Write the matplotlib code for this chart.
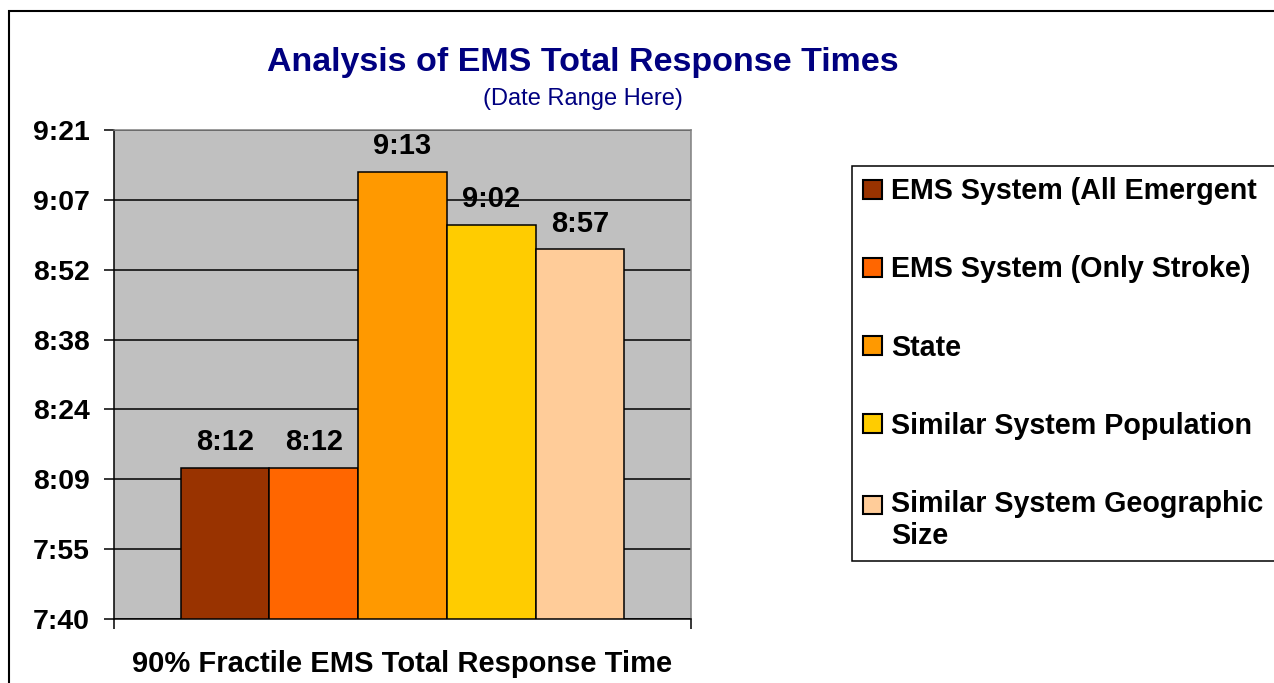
import matplotlib.pyplot as plt
import numpy as np
from matplotlib.patches import Rectangle

plt.rcParams['font.family'] = ['Liberation Sans', 'DejaVu Sans']

# data: 90% fractile total response time, in seconds (m:ss)
series = ['EMS System (All Emergent', 'EMS System (Only Stroke)', 'State',
          'Similar System Population', 'Similar System Geographic\nSize']
values = [492, 492, 553, 542, 537]          # 8:12, 8:12, 9:13, 9:02, 8:57
colors = ['#993300', '#FF6600', '#FF9900', '#FFCC00', '#FFCC99']
ytick_labels = ['7:40', '7:55', '8:09', '8:24', '8:38', '8:52', '9:07', '9:21']
# axis bounds as in the excel sheet (0.00533 .. 0.0065 days)
y_min, y_max = 460.8, 561.6


def mmss(s):
    return '%d:%02d' % (s // 60, s % 60)


W, H = 1274, 683
fig = plt.figure(figsize=(W / 100, H / 100), dpi=100)
ax = fig.add_axes([114 / W, (H - 619) / H, (691 - 114) / W, (619 - 130) / H])
ax.set_facecolor('#C0C0C0')

# excel-like grouping: gap width 150%
n = len(values)
bw = 1.0 / (n + 1.5)
xs = (np.arange(n) - (n - 1) / 2) * bw
bars = []
for x, v, c, lab in zip(xs, values, colors, series):
    b = ax.bar(x, v - y_min, bottom=y_min, width=bw, color=c,
               edgecolor='black', linewidth=1.1, label=lab, zorder=3)
    bars.append(b)
    ax.bar_label(b, labels=[mmss(v)], padding=8.5, fontsize=21,
                 fontweight='bold', zorder=4)

ax.set_xlim(-0.5, 0.5)
ax.set_ylim(y_min, y_max)
ax.set_yticks(np.linspace(y_min, y_max, len(ytick_labels)))
ax.set_yticklabels(ytick_labels, fontsize=20.4, fontweight='bold')
ax.set_xticks([-0.5, 0.5])
ax.set_xticklabels(['', ''])
ax.tick_params(axis='both', length=7.5, width=1.1, pad=10, color='black')
ax.yaxis.grid(True, color='black', linewidth=1.1, zorder=1)
ax.set_axisbelow(True)
for side in ['left', 'bottom']:
    ax.spines[side].set_color('black')
    ax.spines[side].set_linewidth(1.1)
for side in ['top', 'right']:
    ax.spines[side].set_color('#808080')
    ax.spines[side].set_linewidth(1.1)

ax.set_xlabel('90% Fractile EMS Total Response Time', fontsize=21,
              fontweight='bold', va='center')
ax.xaxis.set_label_coords(0.5, (619 - 664) / (619 - 130))

fig.text(583 / W, 1 - 62 / H, 'Analysis of EMS Total Response Times',
         fontsize=24.5, fontweight='bold', color='#000080',
         ha='center', va='center')
fig.text(583 / W, 1 - 99 / H, '(Date Range Here)', fontsize=17,
         color='#000080', ha='center', va='center')

leg = fig.legend(handles=bars, loc='upper left',
                 bbox_to_anchor=(852 / W, 1 - 166 / H, 0.5, 0.0001),
                 mode='expand', borderaxespad=0,
                 prop={'weight': 'bold', 'size': 20.6},
                 handlelength=0.66, handleheight=0.62, handletextpad=0.3,
                 labelspacing=1.75, borderpad=0.4, fancybox=False,
                 edgecolor='black', framealpha=1)
leg.get_frame().set_linewidth(1.1)
for h in leg.legend_handles:
    h.set_linewidth(1.5)
# two-line label: keep its swatch level with the first line
last = leg.legend_handles[-1]
last.set_y(last.get_y() + 11.5)

# outer chart border (runs off the right and bottom edges)
fig.patches.append(Rectangle((9 / W, -0.1), 1.2, 1.1 - 11 / H,
                             transform=fig.transFigure, fill=False,
                             edgecolor='black', linewidth=1.5))

fig.savefig('out.png', dpi=100)
